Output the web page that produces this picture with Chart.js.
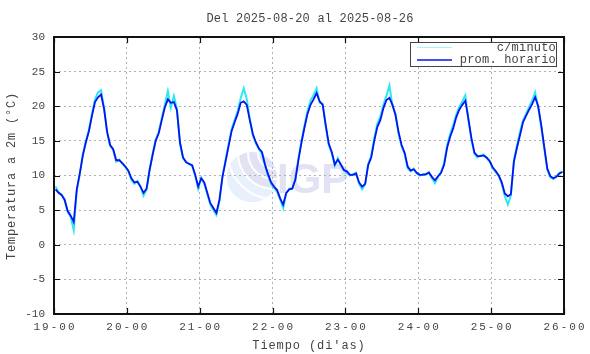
<!DOCTYPE html>
<html>
<head>
<meta charset="utf-8">
<script src="https://cdn.jsdelivr.net/npm/chart.js@4/dist/chart.umd.min.js"></script>
<style>
  html, body { margin:0; padding:0; background:#fff; }
  #wrap { width:590px; height:354px; }
</style>
</head>
<body>
<div id="wrap"><canvas id="c" width="590" height="354"></canvas></div>
<script>
// ---- data ----
const titleText = "Del 2025-08-20 al 2025-08-26";
const xTitle = "Tiempo (di'as)";
const yTitle = "Temperatura a 2m (\u00B0C)";
const dayLabels = ["19-00","20-00","21-00","22-00","23-00","24-00","25-00","26-00"];
const yTicks = [-10,-5,0,5,10,15,20,25,30];
const seriesNames = ["c/minuto","prom. horario"];

// hourly mean (prom. horario), one value per hour from 19-00
const hourly = [
  8.0, 7.5, 7.2, 6.5, 4.9, 4.2, 3.3, 8.0, 10.3, 12.9, 14.8, 16.4, 18.6, 20.6, 21.3, 21.7, 19.6, 16.3, 14.4, 13.8, 12.2, 12.2, 11.8, 11.3,
  10.7, 9.6, 9.0, 9.1, 8.4, 7.5, 8.1, 10.8, 13.0, 15.0, 16.1, 18.0, 19.8, 21.0, 20.5, 20.6, 19.4, 14.8, 12.6, 11.9, 11.7, 11.5, 10.1, 8.4,
  9.6, 9.0, 7.5, 6.0, 5.3, 4.6, 6.5, 9.8, 12.0, 14.2, 16.4, 17.7, 18.9, 20.5, 20.7, 20.2, 18.0, 16.0, 14.8, 13.9, 13.4, 11.6, 10.2, 9.0,
  8.4, 7.9, 6.7, 5.8, 7.5, 8.0, 8.1, 9.4, 12.2, 14.7, 16.9, 18.9, 20.2, 21.0, 21.9, 20.7, 20.2, 17.3, 14.6, 13.4, 11.6, 12.3, 11.6, 10.8,
  10.6, 10.1, 10.1, 10.3, 9.0, 8.4, 8.8, 11.5, 12.6, 15.0, 17.0, 18.0, 19.7, 20.9, 21.2, 20.2, 18.7, 16.3, 14.4, 13.3, 11.3, 10.7, 10.9, 10.4,
  10.1, 10.1, 10.2, 10.4, 9.8, 9.3, 9.9, 10.4, 11.5, 14.0, 15.6, 16.8, 18.4, 19.5, 20.2, 20.8, 18.2, 15.4, 13.3, 12.8, 12.8, 12.9, 12.6, 12.1,
  11.2, 10.65, 10.0, 9.0, 7.4, 7.0, 7.3, 12.0, 14.0, 15.8, 17.7, 18.6, 19.5, 20.3, 21.3, 20.0, 17.3, 14.1, 11.0, 9.9, 9.6, 9.8, 10.3, 10.5
];

// per-minute trace (c/minuto), read at the same hourly positions incl. visible extremes
const perMinute = [
  8.4, 7.6, 7.2, 6.4, 4.7, 4.0, 2.1, 7.8, 10.2, 13.1, 14.9, 16.6, 18.9, 21.0, 22.0, 22.3, 19.8, 16.2, 14.3, 13.7, 12.0, 12.3, 11.7, 11.2,
  10.6, 9.3, 8.8, 9.2, 8.3, 7.1, 8.0, 10.9, 13.2, 15.2, 16.3, 18.3, 20.2, 22.2, 19.8, 21.5, 19.6, 14.6, 12.5, 12.0, 11.6, 11.4, 10.0, 8.1,
  9.7, 8.8, 7.3, 5.8, 5.0, 4.3, 6.3, 9.9, 12.2, 14.5, 16.7, 18.0, 19.3, 21.2, 22.6, 21.0, 18.2, 15.8, 14.6, 13.8, 13.2, 11.4, 10.0, 8.8,
  8.2, 7.6, 6.5, 5.3, 7.4, 8.1, 8.2, 9.3, 12.4, 15.0, 17.2, 19.3, 20.8, 21.6, 22.6, 20.5, 20.4, 17.1, 14.4, 13.2, 11.4, 12.5, 11.4, 10.7,
  10.4, 10.0, 10.2, 10.4, 8.8, 8.0, 8.7, 11.7, 12.9, 15.4, 17.5, 18.5, 20.2, 21.5, 23.0, 20.0, 18.9, 16.0, 14.2, 13.1, 11.0, 10.6, 11.0, 10.3,
  10.0, 10.2, 10.1, 10.5, 9.6, 8.9, 9.8, 10.5, 11.8, 14.4, 16.0, 17.3, 18.8, 19.9, 20.7, 21.6, 18.0, 15.2, 13.1, 12.6, 12.9, 13.0, 12.5, 12.0,
  11.0, 10.5, 9.9, 8.8, 7.0, 5.8, 7.1, 12.2, 14.3, 16.3, 18.0, 18.9, 19.9, 20.8, 22.0, 19.8, 17.0, 13.9, 10.8, 9.7, 9.5, 9.9, 10.4, 10.6
];

// ---- build datasets (hourly means sit at the middle of each hour) ----
const hourlyPts = hourly.map((v, i) => ({ x: i + 0.5, y: v }));
const minutePts = perMinute.map((v, i) => ({ x: i + 0.5, y: v }));

const FONT = "'Liberation Mono', 'DejaVu Sans Mono', monospace";
const TXT = '#444';
const CYAN = '#2ee8f0';
const BLUE = '#0812f2';

const deco = {
  id: 'deco',
  beforeDraw(chart) {
    const ctx = chart.ctx;
    ctx.save();
    // watermark logo
    const cx = 252, cy = 177, r = 25;
    ctx.beginPath(); ctx.arc(cx, cy, r, 0, Math.PI * 2); ctx.fillStyle = '#e2e2f5'; ctx.fill();
    ctx.save();
    ctx.beginPath(); ctx.arc(cx, cy, r, 0, Math.PI * 2); ctx.clip();
    ctx.beginPath(); ctx.arc(cx + 22, cy - 24, 36, 0, Math.PI * 2); ctx.rect(cx - 40, cy - 40, 80, 80);
    ctx.fillStyle = '#e8f0fc'; ctx.fill('evenodd');
    ctx.strokeStyle = '#ffffff'; ctx.lineWidth = 2;
    [16, 26, 36, 46].forEach(rr => { ctx.beginPath(); ctx.arc(cx + 22, cy - 24, rr, 0, Math.PI * 2); ctx.stroke(); });
    ctx.restore();
    ctx.fillStyle = '#e2e2f5';
    ctx.font = "bold 42px 'Liberation Sans', Arial, sans-serif";
    ctx.textAlign = 'left'; ctx.textBaseline = 'alphabetic';
    ctx.fillText('IGP', 277, 193);
    ctx.restore();
  },
  afterDraw(chart) {
    const ctx = chart.ctx;
    const a = chart.chartArea;
    const xs = chart.scales.x, ys = chart.scales.y;
    ctx.save();
    // frame
    ctx.strokeStyle = '#111'; ctx.lineWidth = 2;
    ctx.strokeRect(a.left, a.top, a.right - a.left, a.bottom - a.top);
    // inward tick marks (mirrored)
    ctx.lineWidth = 1.2;
    const tl = 6;
    dayLabels.forEach((lab, i) => {
      const px = Math.round(xs.getPixelForValue(i * 24)) + 0.5;
      ctx.beginPath();
      ctx.moveTo(px, a.bottom); ctx.lineTo(px, a.bottom - tl);
      ctx.moveTo(px, a.top); ctx.lineTo(px, a.top + tl);
      ctx.stroke();
    });
    yTicks.forEach(v => {
      const py = Math.round(ys.getPixelForValue(v)) + 0.5;
      ctx.beginPath();
      ctx.moveTo(a.left, py); ctx.lineTo(a.left + tl, py);
      ctx.moveTo(a.right, py); ctx.lineTo(a.right - tl, py);
      ctx.stroke();
    });
    // x tick labels
    ctx.fillStyle = TXT;
    ctx.font = '11px ' + FONT;
    ctx.textBaseline = 'middle';
    ctx.textAlign = 'center';
    try { ctx.letterSpacing = '2px'; } catch (e) {}
    dayLabels.forEach((lab, i) => {
      const px = xs.getPixelForValue(i * 24);
      ctx.fillText(lab, px + 1, 327);
    });
    // x title
    ctx.font = '12px ' + FONT;
    try { ctx.letterSpacing = '0.9px'; } catch (e) {}
    ctx.fillText(xTitle, 309, 346);
    // title
    try { ctx.letterSpacing = '0.2px'; } catch (e) {}
    ctx.fillText(titleText, 310, 19);
    // y title
    ctx.save();
    try { ctx.letterSpacing = '0.8px'; } catch (e) {}
    ctx.translate(12, 176);
    ctx.rotate(-Math.PI / 2);
    ctx.fillText(yTitle, 0, 0);
    ctx.restore();
    // legend
    try { ctx.letterSpacing = '0.2px'; } catch (e) {}
    ctx.fillStyle = '#fff';
    ctx.fillRect(410, 42, 147, 25);
    ctx.strokeStyle = '#444'; ctx.lineWidth = 1;
    ctx.strokeRect(410.5, 42.5, 146, 24);
    ctx.lineWidth = 1;
    ctx.strokeStyle = '#a8f4f6';
    ctx.beginPath(); ctx.moveTo(417, 47.5); ctx.lineTo(452, 47.5); ctx.stroke();
    ctx.strokeStyle = BLUE; ctx.lineWidth = 1.5;
    ctx.beginPath(); ctx.moveTo(417, 60); ctx.lineTo(452, 60); ctx.stroke();
    ctx.fillStyle = TXT;
    ctx.textAlign = 'right';
    ctx.fillText(seriesNames[0], 556, 48);
    ctx.fillText(seriesNames[1], 556, 60);
    ctx.restore();
  }
};

new Chart(document.getElementById('c'), {
  type: 'line',
  data: {
    datasets: [
      { label: seriesNames[1], data: hourlyPts, borderColor: BLUE, borderWidth: 1.8, pointRadius: 0, tension: 0, order: 1 },
      { label: seriesNames[0], data: minutePts, borderColor: CYAN, borderWidth: 2.0, pointRadius: 0, tension: 0, order: 2 }
    ]
  },
  options: {
    responsive: false,
    devicePixelRatio: 1,
    animation: false,
    events: [],
    layout: { padding: { left: 0, top: 37, right: 26, bottom: 0 } },
    plugins: { legend: { display: false }, title: { display: false }, tooltip: { enabled: false } },
    scales: {
      x: {
        type: 'linear', min: 0, max: 168,
        ticks: { stepSize: 24, display: false },
        grid: { color: '#b0b0b0', lineWidth: 1, drawTicks: false },
        border: { display: false, dash: [2, 3] },
        afterFit(s) { s.height = 40; }
      },
      y: {
        min: -10, max: 30,
        ticks: { stepSize: 5, color: TXT, font: { family: FONT, size: 11 }, padding: 9 },
        grid: { color: '#b0b0b0', lineWidth: 1, drawTicks: false },
        border: { display: false, dash: [2, 3] },
        afterFit(s) { s.width = 54; }
      }
    }
  },
  plugins: [deco]
});
</script>
</body>
</html>
